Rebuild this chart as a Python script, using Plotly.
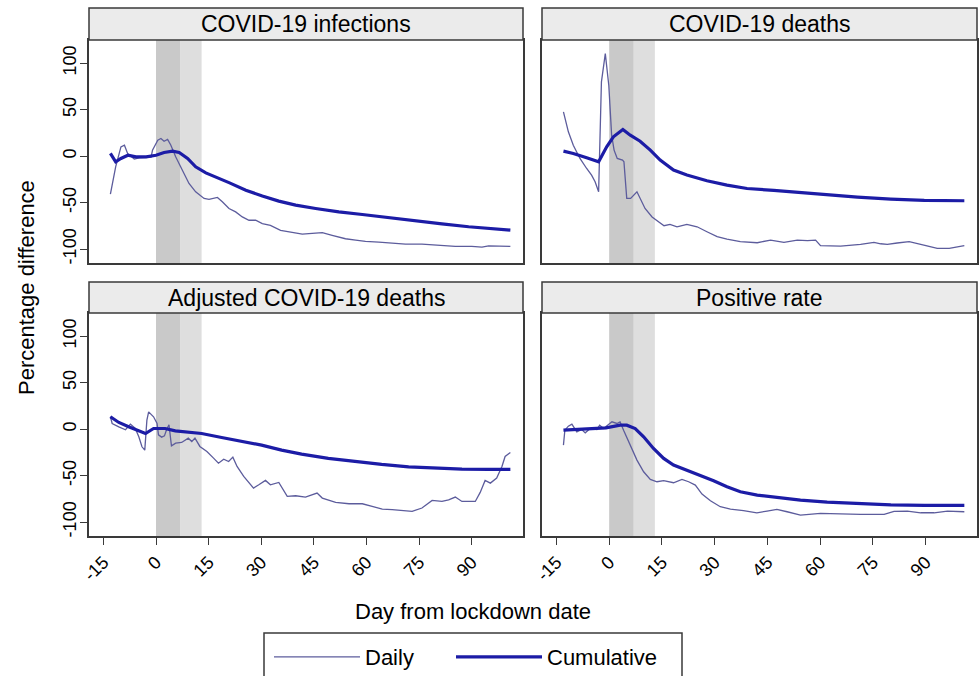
import plotly.graph_objects as go

# ---------------- data ----------------
panel_titles = ["COVID-19 infections", "COVID-19 deaths",
                "Adjusted COVID-19 deaths", "Positive rate"]
x_tick_vals = [-15, 0, 15, 30, 45, 60, 75, 90]
x_tick_text = ["-15", "0", "15", "30", "45", "60", "75", "90"]
y_tick_vals = [-100, -50, 0, 50, 100]
y_tick_text = ["-100", "-50", "0", "50", "100"]

inf_daily_x = [-13, -11.5, -10, -9, -8.1, -6.2, -4.8, -3, -1.4, -1, 0.5, 1.4, 2.3, 3.3, 4.2, 5.6,
               7.5, 9.4, 11.3, 13.7, 15.1, 17.5, 18.9, 20.8, 22.7, 24.6, 26.5, 28.4, 30.3, 32.6,
               35.5, 38.8, 41.7, 44.5, 47.4, 50.2, 54, 56.9, 59.7, 63.5, 66.3, 71.1, 75.8, 80.6,
               85.3, 90, 92.9, 94.8, 101]
inf_daily_y = [-41, -11.5, 10, 11.8, 2.9, -3.2, -1.8, -1.2, -1, 6.5, 17.2, 19, 16, 18, 12, -0.7,
               -15, -29.4, -38.4, -45.5, -46.6, -44.4, -49, -56.3, -60, -65.4, -69, -69, -72.6, -74.5,
               -79.9, -81.7, -83.9, -83.2, -82.4, -85.3, -88.9, -90.3, -91.8, -92.5, -93.2, -94.7, -94.7, -96.1,
               -97.2, -97.2, -97.9, -96.5, -97.2]
inf_cum_x = [-13, -11.5, -10, -8, -5.7, -2.8, 0, 2.3, 4.7, 6.6, 9, 11.3, 14.2, 17.1, 20.8, 25.6,
             30.3, 35, 39.8, 45.5, 52.1, 58.8, 66.3, 73.9, 81.5, 89.1, 94.8, 101]
inf_cum_y = [2.9, -6.1, -2.5, 1, -0.7, -0.7, 1, 3.9, 5.4, 3.9, -2.5, -11.5, -18, -22.4, -28.5, -36.6,
             -43, -48.4, -52.7, -56.3, -60, -62.8, -66.3, -69.5, -72.8, -76, -78.1, -79.6]

dth_daily_x = [-13, -11.6, -10.2, -8.3, -6.4, -5, -4, -3, -2.2, -1.1, -0.1, 0.7, 1.4, 2.3, 3.8, 4.2,
               5, 6.1, 7.9, 8.8, 10.2, 12.2, 14.1, 15.6, 17.3, 19.3, 22.1, 25, 27.8, 30.7, 33.5,
               37.3, 42.1, 45.9, 49.7, 53.5, 56.4, 58.7, 60.1, 65.8, 71.5, 75.3, 77.2, 79.1, 81.9,
               85.3, 88.6, 93.3, 96.7, 101]
dth_daily_y = [47.6, 26.2, 11.8, -2.5, -13.3, -20.4, -27.6, -38.4, 80, 110.4, 76, 22.6, 6.5, -2.5, -4.3, -6,
               -45.5, -45.5, -38.4, -45.5, -56.3, -65.4, -70.7, -74.9, -73.5, -76, -73.5, -76, -81.4, -86.7, -89.2,
               -92.1, -93.2, -90.3, -92.8, -90.3, -91, -90.3, -96.4, -96.8, -95, -92.8, -94.3, -95, -93.5,
               -92.1, -95, -99.3, -99.3, -96.4]
dth_cum_x = [-13, -10.2, -6.4, -3, -0.7, 1.2, 3.9, 6, 8.8, 11.7, 14.5, 18.3, 22.1, 27.8, 33.5, 39.2,
             46.8, 54.4, 62, 70.6, 80.1, 89.6, 101]
dth_cum_y = [5.4, 2.9, -1.8, -6.1, 10, 20.8, 28.7, 22.6, 16.1, 6.5, -4.3, -15, -20.4, -26.5, -31.2, -34.8,
             -36.9, -39.4, -41.9, -44.1, -46.2, -47.7, -48]

adj_daily_x = [-13, -12.5, -10.6, -8.7, -7.3, -5.9, -4.9, -4, -3.2, -2.6, -2.1, -0.7, 0.3, 0.7, 1.6, 2.4,
               3, 3.7, 4.4, 5.6, 7.3, 9.2, 10.2, 11.1, 12.5, 14.5, 16.4, 17.8, 19.3, 20.7, 21.9, 23.1,
               25, 27.8, 29.3, 31.2, 32.6, 35, 37.4, 39.8, 42.6, 45.9, 47.4, 51.2, 55, 58.8, 61.6,
               64.5, 67.3, 71.1, 73, 75.8, 78.7, 81.5, 83.4, 85.3, 87.2, 91, 92.4, 93.8, 95.3, 97.1,
               98.6, 99.5, 101]
adj_daily_y = [13.3, 6.1, 2.5, -0.7, 5.4, 0.7, -8.2, -19, -22.6, 9.7, 18.6, 13.3, 6.1, -6.1, -8.6, -7.2,
               -0.7, 4.7, -17.9, -15, -14.3, -9.7, -13.3, -9.7, -18.6, -24, -31.2, -36.6, -32.3, -34.8, -30.1, -40.1,
               -50.9, -63.4, -59.9, -55.2, -59.9, -57.3, -72.4, -71.7, -73.1, -68.8, -74.2, -78.9, -80.3, -80.3, -83.2,
               -86, -86.7, -88.2, -88.5, -84.9, -76.7, -77.8, -76, -73.1, -77.8, -77.8, -68.1, -55.2, -58.1, -52.7,
               -40.1, -29.4, -25.1]
adj_cum_x = [-13, -10.6, -7.8, -5.4, -3, -0.7, 2.6, 5.5, 9.2, 13, 18.7, 24.4, 30.1, 35.8, 41.5, 49.1,
             56.7, 64.3, 72, 79.5, 87.2, 94.8, 101]
adj_cum_y = [13.3, 7.2, 2.5, -1.1, -4.7, 0.7, 0.7, -1.8, -3.6, -4.7, -9, -12.9, -17.2, -22.6, -26.9, -31.5,
             -35.1, -38, -40.5, -41.9, -43, -43.4, -43.4]

pos_daily_x = [-13, -12.6, -11.6, -10.6, -9.2, -7.8, -6.8, -5.4, -3.5, -2.7, -1.6, -0.2, 0.8, 2.2, 3.1, 4.1,
               6, 7.9, 9.8, 11.7, 13.6, 15.5, 18.3, 20.7, 22.6, 24.5, 26.4, 28.8, 31.6, 34.5, 38.2,
               42, 44.9, 47.7, 50.6, 54.4, 60.1, 65.8, 71.5, 78.2, 81, 84.8, 88.6, 92.4, 96.2, 101]
pos_daily_y = [-17.2, -1.1, 3.2, 5.4, -2.9, -0.4, -4, 0.7, -0.4, 4.3, 0.7, 5.4, 7.9, 6.1, 7.9, -1.1,
               -17.2, -33.3, -45.9, -54.1, -56.6, -55.5, -57.7, -54.1, -56.6, -60.2, -69.9, -77.1, -83.5, -86, -87.8,
               -90, -88.2, -86.4, -88.9, -92.5, -90.7, -91.4, -91.8, -91.8, -88.5, -88.2, -90, -90, -88.2, -88.9]
pos_cum_x = [-13, -10.2, -5.4, -0.9, 3.1, 5, 7.4, 9.8, 12.6, 15.5, 18.3, 22.1, 25.9, 29.7, 33.5, 37.3,
             42.1, 47.8, 54.4, 62, 70.6, 80.1, 89.6, 101]
pos_cum_y = [-1.1, -0.4, 0, 1.4, 4.3, 4.3, 0.7, -8.2, -20.8, -31.5, -38.7, -44.1, -49.5, -55.5, -62, -67.4,
             -71, -73.8, -76.3, -78.5, -79.9, -81.4, -82.1, -82.1]

lockdown_dark = [0, 7]
lockdown_light = [7, 13]

series = [
    (inf_daily_x, inf_daily_y, inf_cum_x, inf_cum_y),
    (dth_daily_x, dth_daily_y, dth_cum_x, dth_cum_y),
    (adj_daily_x, adj_daily_y, adj_cum_x, adj_cum_y),
    (pos_daily_x, pos_daily_y, pos_cum_x, pos_cum_y),
]

# ---------------- styling ----------------
W, H = 979, 676
FONT = "Liberation Sans, Arial, Helvetica, sans-serif"
DAILY_COLOR = "#5c5c9c"
CUM_COLOR = "#1c1ca6"
EDGE = "#3a3a3a"

x_dom = [[89 / W, 523 / W], [542 / W, 977 / W]]
y_dom = [[1 - 263 / H, 1 - 40 / H], [1 - 536 / H, 1 - 313 / H]]
header_top = [1 - 8 / H, 1 - 282 / H]

fig = go.Figure()
layout = dict(
    width=W, height=H, margin=dict(l=0, r=0, t=0, b=0, autoexpand=False),
    paper_bgcolor="white", plot_bgcolor="white",
    font=dict(family=FONT, color="black"),
    showlegend=True,
)
shapes = []
annotations = []

for i, (dx, dy, cx, cy) in enumerate(series):
    row, col = divmod(i, 2)
    n = i + 1
    xa = "x" if n == 1 else f"x{n}"
    ya = "y" if n == 1 else f"y{n}"
    fig.add_trace(go.Scatter(x=dx, y=dy, mode="lines", name="Daily",
                             line=dict(color=DAILY_COLOR, width=1.3),
                             xaxis=xa, yaxis=ya, showlegend=(i == 0), legend="legend"))
    fig.add_trace(go.Scatter(x=cx, y=cy, mode="lines", name="Cumulative",
                             line=dict(color=CUM_COLOR, width=3.2),
                             xaxis=xa, yaxis=ya, showlegend=(i == 0), legend="legend2"))

    xkey = "xaxis" if n == 1 else f"xaxis{n}"
    ykey = "yaxis" if n == 1 else f"yaxis{n}"
    bottom = row == 1
    left = col == 0
    layout[xkey] = dict(
        domain=x_dom[col], anchor=ya, range=[-19.1, 104.6], automargin=False,
        showgrid=False, zeroline=False, showline=True, mirror=True,
        linecolor=EDGE, linewidth=1.5,
        tickmode="array", tickvals=x_tick_vals, ticktext=x_tick_text,
        ticks="outside" if bottom else "", ticklen=7, tickwidth=1.3, tickcolor=EDGE,
        showticklabels=bottom, tickangle=-45,
        tickfont=dict(size=18, family=FONT, color="black"),
    )
    layout[ykey] = dict(
        domain=y_dom[row], anchor=xa, range=[-115, 125], automargin=False,
        showgrid=False, zeroline=False, showline=True, mirror=True,
        linecolor=EDGE, linewidth=1.5,
        tickmode="array", tickvals=y_tick_vals, ticktext=y_tick_text,
        ticks="outside" if left else "", ticklen=7, tickwidth=1.3, tickcolor=EDGE,
        showticklabels=left, tickangle=-90, ticklabelstandoff=-3,
        tickfont=dict(size=18, family=FONT, color="black"),
    )

    # lockdown shading
    shapes.append(dict(type="rect", xref=xa, yref=f"{ya} domain",
                       x0=lockdown_dark[0], x1=lockdown_dark[1], y0=0, y1=1,
                       fillcolor="#c9c9c9", line=dict(width=0), layer="below"))
    shapes.append(dict(type="rect", xref=xa, yref=f"{ya} domain",
                       x0=lockdown_light[0], x1=lockdown_light[1], y0=0, y1=1,
                       fillcolor="#dedede", line=dict(width=0), layer="below"))
    # header strip
    shapes.append(dict(type="rect", xref="paper", yref="paper",
                       x0=x_dom[col][0], x1=x_dom[col][1],
                       y0=y_dom[row][1], y1=header_top[row],
                       fillcolor="#ebebeb", line=dict(color=EDGE, width=1.5), layer="above"))
    annotations.append(dict(text=panel_titles[i], xref="paper", yref="paper",
                            x=(x_dom[col][0] + x_dom[col][1]) / 2,
                            y=(y_dom[row][1] + header_top[row]) / 2,
                            xanchor="center", yanchor="middle", showarrow=False,
                            font=dict(size=23, family=FONT, color="black")))

# legend frame (shared by the two legend entries)
shapes.append(dict(type="rect", xref="paper", yref="paper",
                   x0=264 / W, x1=682 / W, y0=-0.05, y1=1 - 633 / H,
                   fillcolor="rgba(0,0,0,0)", line=dict(color=EDGE, width=1.5), layer="above"))

annotations.append(dict(text="Percentage difference", xref="paper", yref="paper",
                        x=27 / W, y=1 - 288 / H, textangle=-90, showarrow=False,
                        xanchor="center", yanchor="middle",
                        font=dict(size=22, family=FONT, color="black")))
annotations.append(dict(text="Day from lockdown date", xref="paper", yref="paper",
                        x=473 / W, y=1 - 611 / H, showarrow=False,
                        xanchor="center", yanchor="middle",
                        font=dict(size=22, family=FONT, color="black")))

layout["shapes"] = shapes
layout["annotations"] = annotations
legend_common = dict(orientation="h", xanchor="left", y=1 - 636 / H, yanchor="top",
                     borderwidth=0, bgcolor="rgba(0,0,0,0)",
                     font=dict(size=22, family=FONT, color="black"), itemwidth=86)
layout["legend"] = dict(x=269 / W, **legend_common)
layout["legend2"] = dict(x=451 / W, **legend_common)

fig.update_layout(**layout)
fig.write_html("out.html")
